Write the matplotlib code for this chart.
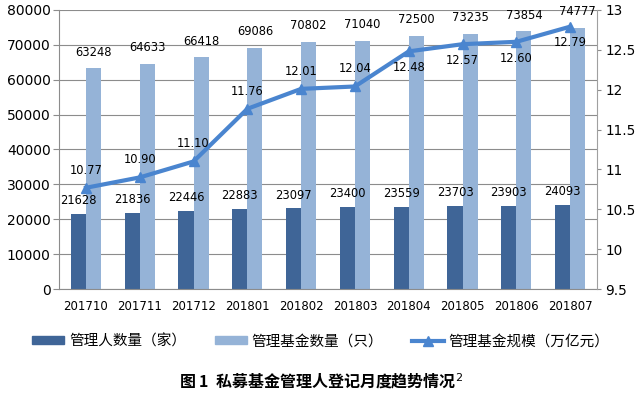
import matplotlib
matplotlib.use("Agg")
import matplotlib.pyplot as plt
from matplotlib.lines import Line2D
from matplotlib.patches import Patch
import numpy as np

plt.rcParams['font.family'] = ['DejaVu Sans', 'Noto Sans CJK SC']

months = ["201710", "201711", "201712", "201801", "201802", "201803",
          "201804", "201805", "201806", "201807"]
managers = [21628, 21836, 22446, 22883, 23097, 23400, 23559, 23703, 23903, 24093]
funds = [63248, 64633, 66418, 69086, 70802, 71040, 72500, 73235, 73854, 74777]
scale = [10.77, 10.90, 11.10, 11.76, 12.01, 12.04, 12.48, 12.57, 12.60, 12.79]
scale_label_above = [True, True, True, True, True, True, False, False, False, False]

c_dark = "#3F6597"
c_light = "#95B3D7"
c_line = "#4A85CF"

fig = plt.figure(figsize=(6.42, 3.96), dpi=100)
ax = fig.add_axes([0.092, 0.270, 0.838, 0.705])
x = np.arange(len(months))
w = 0.28
ax.bar(x - w/2, managers, w, color=c_dark, zorder=2)
ax.bar(x + w/2, funds, w, color=c_light, zorder=2)
ax.set_ylim(0, 80000)
ax.set_xlim(-0.5, len(months) - 0.5)
ax.set_yticks(np.arange(0, 80001, 10000))
ax.yaxis.grid(True, color="#8C8C8C", linewidth=0.8, zorder=0)
ax.set_axisbelow(True)
ax.set_xticks(x)
ax.set_xticklabels(months, fontsize=8.5)
ax.tick_params(axis='x', length=0, pad=8)
ax.tick_params(axis='y', labelsize=10, length=4, color="#8C8C8C", pad=2)
for s in ["top", "right"]:
    ax.spines[s].set_visible(False)
for s in ["left", "bottom"]:
    ax.spines[s].set_color("#8C8C8C")

for i in range(len(months)):
    ax.annotate(f"{managers[i]}", (x[i] - w/2, managers[i]), xytext=(0, 5),
                textcoords="offset points", ha="center", va="bottom", fontsize=8.3)
    ax.annotate(f"{funds[i]}", (x[i] + w/2, funds[i]), xytext=(0, 7),
                textcoords="offset points", ha="center", va="bottom", fontsize=8.3)

ax2 = ax.twinx()
ax2.set_ylim(9.5, 13)
ax2.set_yticks(np.arange(9.5, 13.01, 0.5))
ax2.set_yticklabels(["9.5", "10", "10.5", "11", "11.5", "12", "12.5", "13"])
ax2.plot(x, scale, color=c_line, linewidth=3, marker="^", markersize=7, zorder=3)
ax2.tick_params(axis='y', labelsize=9.8, length=3, color="#8C8C8C", pad=3)
for s in ["top", "left", "bottom"]:
    ax2.spines[s].set_visible(False)
ax2.spines["right"].set_color("#A0A0A0")
for i in range(len(months)):
    if scale_label_above[i]:
        ax2.annotate(f"{scale[i]:.2f}", (x[i], scale[i]), xytext=(0, 8),
                     textcoords="offset points", ha="center", va="bottom", fontsize=8.3)
    else:
        ax2.annotate(f"{scale[i]:.2f}", (x[i], scale[i]), xytext=(0, -7),
                     textcoords="offset points", ha="center", va="top", fontsize=8.3)

handles = [Patch(color=c_dark), Patch(color=c_light),
           Line2D([0], [0], color=c_line, lw=3, marker="^", markersize=7)]
labels = ["管理人数量（家）", "管理基金数量（只）", "管理基金规模（万亿元）"]
fig.legend(handles, labels, loc="center", bbox_to_anchor=(0.5, 0.138), ncol=3,
           frameon=False, prop={'family': ['Noto Sans CJK SC'], 'size': 10.5},
           handlelength=2.2, handleheight=0.5, columnspacing=2.0, handletextpad=0.3)

fig.text(0.5, 0.038, "图 1  私募基金管理人登记月度趋势情况$^{2}$", ha="center", va="center",
         fontsize=11.5, fontweight="bold", family=['Noto Sans CJK SC', 'DejaVu Sans'])

fig.savefig("out.png", dpi=100)
